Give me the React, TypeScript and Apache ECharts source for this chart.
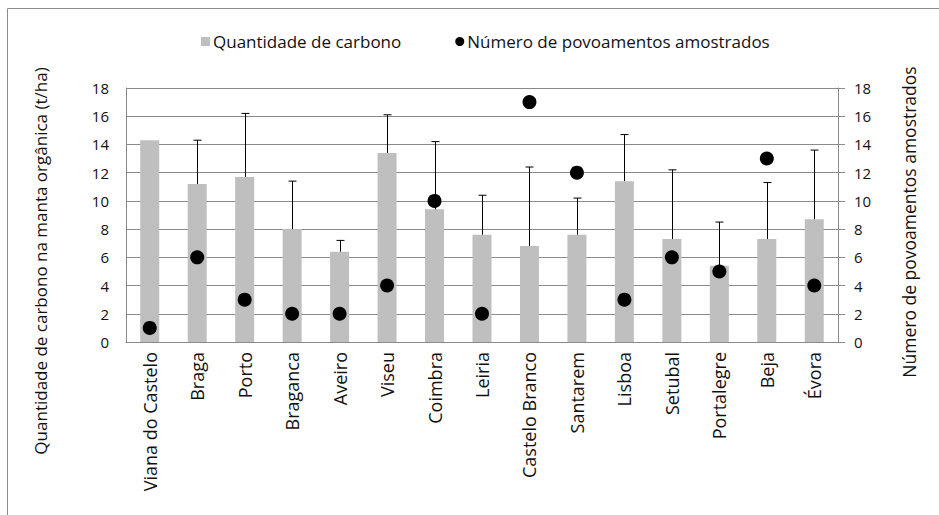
import React, { useEffect, useRef } from "react";
import * as echarts from "echarts";

const categories = [
  "Viana do Castelo", "Braga", "Porto", "Braganca", "Aveiro", "Viseu", "Coimbra",
  "Leiria", "Castelo Branco", "Santarem", "Lisboa", "Setubal", "Portalegre", "Beja", "Évora",
];
const carbonMean = [14.3, 11.2, 11.7, 8.0, 6.4, 13.4, 9.4, 7.6, 6.8, 7.6, 11.4, 7.3, 5.4, 7.3, 8.7];
const carbonUpper = [null, 14.3, 16.2, 11.4, 7.2, 16.1, 14.2, 10.4, 12.4, 10.2, 14.7, 12.2, 8.5, 11.3, 13.6];
const standCount = [1, 6, 3, 2, 2, 4, 10, 2, 17, 12, 3, 6, 5, 13, 4];
const yTicksMax = 18;

const FONT = "'Open Sans', 'Noto Sans', sans-serif";
const TXT = "#111111";
const GRID = "#8a8a8a";

export default function App() {
  const ref = useRef<HTMLDivElement>(null);
  useEffect(() => {
    if (!ref.current) return;
    const chart = echarts.init(ref.current, undefined, { renderer: "svg" });
    const errData = carbonUpper.map((u, i) => [i, carbonMean[i], u == null ? carbonMean[i] : u]);
    chart.setOption({
      animation: false,
      backgroundColor: "#ffffff",
      textStyle: { fontFamily: FONT, color: TXT },
      legend: {
        top: 28,
        left: 196,
        itemGap: 54,
        itemWidth: 9,
        itemHeight: 9,
        textStyle: { fontFamily: FONT, fontSize: 17, color: TXT, padding: [0, 0, 0, -2] },
        data: [
          { name: "Quantidade de carbono", icon: "rect" },
          { name: "Número de povoamentos amostrados", icon: "circle", itemStyle: { opacity: 1 } },
        ],
      },
      grid: { left: 126, right: 101, top: 88, bottom: 173, outerBoundsMode: "none", containLabel: false },
      xAxis: {
        type: "category",
        data: categories,
        axisLine: { show: true, lineStyle: { color: GRID, width: 1 } },
        axisTick: { show: false },
        axisLabel: { rotate: 90, interval: 0, margin: 10, fontSize: 18, color: TXT, fontFamily: FONT },
      },
      yAxis: [
        {
          type: "value",
          min: 0,
          max: yTicksMax,
          interval: 2,
          axisLine: { show: true, lineStyle: { color: GRID } },
          axisTick: { show: false },
          axisLabel: { fontSize: 15, color: TXT, margin: 17, fontFamily: FONT },
          splitLine: { show: true, lineStyle: { color: GRID, width: 1 } },
        },
        {
          type: "value",
          min: 0,
          max: yTicksMax,
          interval: 2,
          position: "right",
          axisLine: { show: true, lineStyle: { color: GRID } },
          axisTick: { show: true, inside: false, length: 7, lineStyle: { color: GRID } },
          axisLabel: { fontSize: 15, color: TXT, margin: 16, fontFamily: FONT },
          splitLine: { show: false },
        },
      ],
      series: [
        {
          name: "Quantidade de carbono",
          type: "bar",
          data: carbonMean,
          barWidth: 19,
          itemStyle: { color: "#bfbfbf" },
          z: 2,
        },
        {
          name: "errors",
          type: "custom",
          data: errData,
          z: 3,
          renderItem: (params: any, api: any) => {
            const i = api.value(0);
            const lo = api.coord([i, api.value(1)]);
            const hi = api.coord([i, api.value(2)]);
            if (Math.abs(lo[1] - hi[1]) < 0.5) return { type: "group", children: [] };
            const x = Math.round(lo[0]) + 0.5;
            const style = { stroke: "#000", lineWidth: 1 };
            return {
              type: "group",
              children: [
                { type: "line", shape: { x1: x, y1: lo[1], x2: x, y2: hi[1] }, style },
                { type: "line", shape: { x1: x - 4, y1: hi[1], x2: x + 4, y2: hi[1] }, style },
              ],
            };
          },
        },
        {
          name: "Número de povoamentos amostrados",
          type: "scatter",
          yAxisIndex: 1,
          data: standCount,
          symbol: "circle",
          symbolSize: 14,
          itemStyle: { color: "#000000", opacity: 1 },
          z: 4,
        },
      ],
      graphic: [
        {
          type: "rect",
          shape: { x: 7.5, y: 8.5, width: 1200, height: 800 },
          style: { fill: "none", stroke: "#8c8c8c", lineWidth: 1 },
          silent: true,
        },
        {
          type: "text",
          x: 40,
          y: 261,
          rotation: Math.PI / 2,
          style: {
            text: "Quantidade de carbono na manta orgânica (t/ha)",
            fontFamily: FONT,
            fontSize: 17,
            fill: TXT,
            align: "center",
            verticalAlign: "middle",
          },
        },
        {
          type: "text",
          x: 909,
          y: 222,
          rotation: Math.PI / 2,
          style: {
            text: "Número de povoamentos amostrados",
            fontFamily: FONT,
            fontSize: 17.5,
            fill: TXT,
            align: "center",
            verticalAlign: "middle",
          },
        },
      ],
    });
    return () => chart.dispose();
  }, []);
  return (
    <div
      ref={ref}
      style={{ position: "fixed", left: 0, top: 0, width: 939, height: 515, background: "#fff" }}
    />
  );
}
